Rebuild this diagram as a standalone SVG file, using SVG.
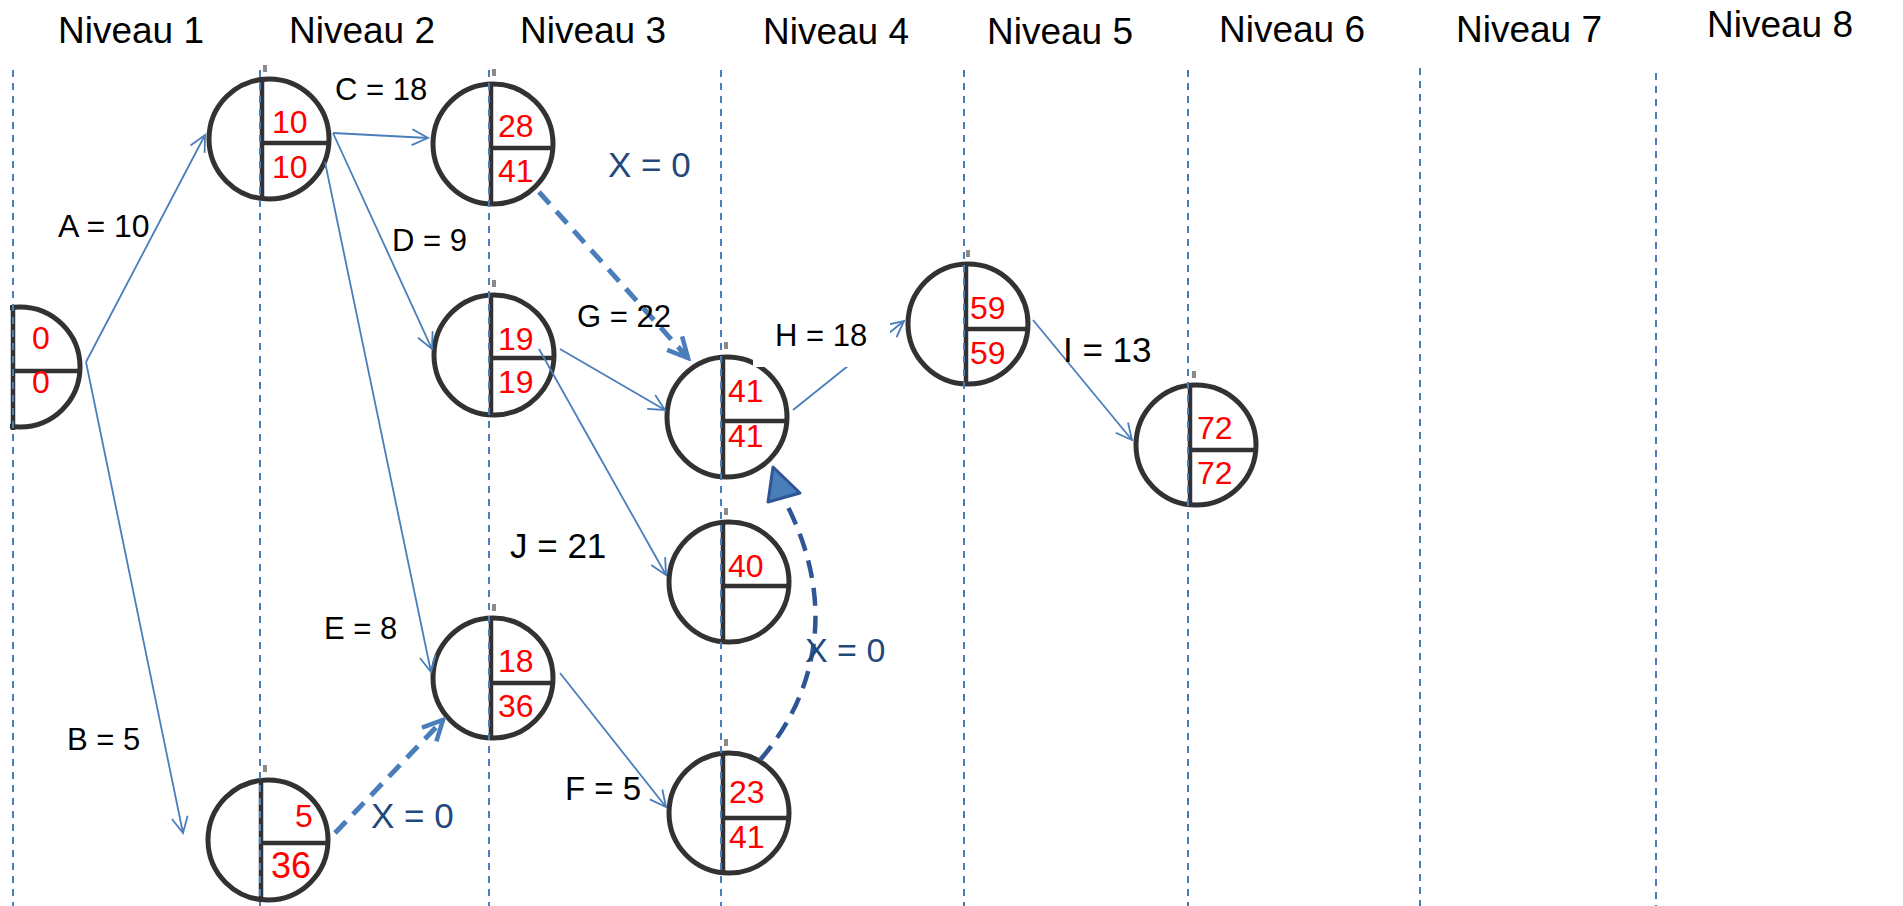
<svg xmlns="http://www.w3.org/2000/svg" width="1903" height="906" viewBox="0 0 1903 906">
<style>
.hdr{font-family:"Liberation Sans",Arial,sans-serif;font-size:37px;fill:#000}
.lbl{font-family:"Liberation Sans",Arial,sans-serif;font-size:31px;fill:#000}
.lbl-big{font-family:"Liberation Sans",Arial,sans-serif;font-size:35px;fill:#000}
.xl{font-family:"Liberation Sans",Arial,sans-serif;font-size:35px;fill:#1f497d}
.num{font-family:"Liberation Sans",Arial,sans-serif;font-size:32px;fill:#ff0000}
.ring{fill:#fff;stroke:#303030;stroke-width:5}
.bar{stroke:#303030;stroke-width:4.5}
.tick{fill:#8a8a8a}
.grid{stroke:#4a7ebb;stroke-width:2;stroke-dasharray:7 6}
.edge{stroke:#4a7ebb;stroke-width:1.8;fill:none}
.dummy{stroke:#4a7ebb;stroke-width:5;fill:none;stroke-dasharray:16 10}
.dummy2{stroke:#2f5597;stroke-width:4.5;fill:none;stroke-dasharray:18 10}
</style>
<defs>
<filter id="soft" filterUnits="userSpaceOnUse" x="0" y="0" width="1903" height="906"><feGaussianBlur stdDeviation="0.7"/></filter>
<clipPath id="clip0"><rect x="10" y="290" width="100" height="160"/></clipPath>
<marker id="arr" markerUnits="userSpaceOnUse" viewBox="-20 -12 24 24" markerWidth="24" markerHeight="24" refX="0" refY="0" orient="auto">
<path d="M-16,-8 L0,0 L-16,8" fill="none" stroke="#4a7ebb" stroke-width="1.8"/>
</marker>
<marker id="arrD" markerUnits="userSpaceOnUse" viewBox="-26 -16 30 32" markerWidth="30" markerHeight="32" refX="0" refY="0" orient="auto">
<path d="M-20,-10 L0,0 L-20,10" fill="none" stroke="#4a7ebb" stroke-width="4.5"/>
</marker>
</defs>
<rect width="1903" height="906" fill="#fff"/>

<g id="headers">
<text class="hdr" x="58" y="43">Niveau 1</text>
<text class="hdr" x="289" y="43">Niveau 2</text>
<text class="hdr" x="520" y="43">Niveau 3</text>
<text class="hdr" x="763" y="44">Niveau 4</text>
<text class="hdr" x="987" y="44">Niveau 5</text>
<text class="hdr" x="1219" y="42">Niveau 6</text>
<text class="hdr" x="1456" y="42">Niveau 7</text>
<text class="hdr" x="1707" y="37">Niveau 8</text>
</g>

<g id="node-0" clip-path="url(#clip0)">
<g filter="url(#soft)">
<circle class="ring" cx="20" cy="367" r="60"/>
<line class="bar" x1="13" y1="305" x2="13" y2="430"/>
<line class="bar" x1="13" y1="371" x2="80" y2="371"/>
</g>
<text class="num" x="32" y="349">0</text>
<text class="num" x="32" y="393">0</text>
</g>

<g id="node-1">
<rect class="tick" x="263" y="65" width="4" height="7"/>
<g filter="url(#soft)">
<circle class="ring" cx="269" cy="139" r="60"/>
<line class="bar" x1="262" y1="78" x2="262" y2="200"/>
<line class="bar" x1="262" y1="143" x2="328" y2="143"/>
</g>
<text class="num" x="272" y="133">10</text>
<text class="num" x="272" y="178">10</text>
</g>

<g id="node-2">
<rect class="tick" x="263" y="765" width="4" height="7"/>
<g filter="url(#soft)">
<circle class="ring" cx="268" cy="840" r="60"/>
<line class="bar" x1="261" y1="778" x2="261" y2="902"/>
<line class="bar" x1="261" y1="843" x2="327" y2="843"/>
</g>
<text class="num" x="295" y="827">5</text>
<text class="num" x="271" y="878" style="font-size:36px">36</text>
</g>

<g id="node-3">
<rect class="tick" x="492" y="69" width="4" height="7"/>
<g filter="url(#soft)">
<circle class="ring" cx="493" cy="144" r="60"/>
<line class="bar" x1="491" y1="82" x2="491" y2="206"/>
<line class="bar" x1="491" y1="148" x2="552" y2="148"/>
</g>
<text class="num" x="498" y="137">28</text>
<text class="num" x="498" y="182">41</text>
</g>

<g id="node-4">
<rect class="tick" x="492" y="280" width="4" height="7"/>
<g filter="url(#soft)">
<circle class="ring" cx="494" cy="355" r="60"/>
<line class="bar" x1="491" y1="293" x2="491" y2="417"/>
<line class="bar" x1="491" y1="358" x2="553" y2="358"/>
</g>
<text class="num" x="498" y="350">19</text>
<text class="num" x="498" y="393">19</text>
</g>

<g id="node-5">
<rect class="tick" x="492" y="604" width="4" height="7"/>
<g filter="url(#soft)">
<circle class="ring" cx="493" cy="678" r="60"/>
<line class="bar" x1="491" y1="616" x2="491" y2="740"/>
<line class="bar" x1="491" y1="683" x2="552" y2="683"/>
</g>
<text class="num" x="498" y="672">18</text>
<text class="num" x="498" y="717">36</text>
</g>

<g id="node-6">
<rect class="tick" x="724" y="342" width="4" height="7"/>
<g filter="url(#soft)">
<circle class="ring" cx="727" cy="417" r="60"/>
<line class="bar" x1="723" y1="355" x2="723" y2="479"/>
<line class="bar" x1="723" y1="421" x2="786" y2="421"/>
</g>
<text class="num" x="728" y="402">41</text>
<text class="num" x="728" y="447">41</text>
</g>

<g id="node-7">
<rect class="tick" x="724" y="508" width="4" height="7"/>
<g filter="url(#soft)">
<circle class="ring" cx="729" cy="582" r="60"/>
<line class="bar" x1="723" y1="520" x2="723" y2="644"/>
<line class="bar" x1="723" y1="586" x2="788" y2="586"/>
</g>
<text class="num" x="728" y="577">40</text>
</g>

<g id="node-8">
<rect class="tick" x="724" y="739" width="4" height="7"/>
<g filter="url(#soft)">
<circle class="ring" cx="729" cy="813" r="60"/>
<line class="bar" x1="723" y1="751" x2="723" y2="875"/>
<line class="bar" x1="723" y1="818" x2="788" y2="818"/>
</g>
<text class="num" x="729" y="803">23</text>
<text class="num" x="729" y="848">41</text>
</g>

<g id="node-9">
<rect class="tick" x="966" y="250" width="4" height="7"/>
<g filter="url(#soft)">
<circle class="ring" cx="968" cy="324" r="60"/>
<line class="bar" x1="966" y1="262" x2="966" y2="386"/>
<line class="bar" x1="966" y1="329" x2="1027" y2="329"/>
</g>
<text class="num" x="970" y="319">59</text>
<text class="num" x="970" y="364">59</text>
</g>

<g id="node-10">
<rect class="tick" x="1192" y="371" width="4" height="7"/>
<g filter="url(#soft)">
<circle class="ring" cx="1196" cy="445" r="60"/>
<line class="bar" x1="1190" y1="383" x2="1190" y2="507"/>
<line class="bar" x1="1190" y1="450" x2="1255" y2="450"/>
</g>
<text class="num" x="1197" y="439">72</text>
<text class="num" x="1197" y="484">72</text>
</g>

<g id="grid">
<line class="grid" x1="13" y1="70" x2="13" y2="906"/>
<line class="grid" x1="260" y1="70" x2="260" y2="906"/>
<line class="grid" x1="489" y1="70" x2="489" y2="906"/>
<line class="grid" x1="721" y1="70" x2="721" y2="906"/>
<line class="grid" x1="964" y1="70" x2="964" y2="906"/>
<line class="grid" x1="1188" y1="70" x2="1188" y2="906"/>
<line class="grid" x1="1420" y1="68" x2="1420" y2="906"/>
<line class="grid" x1="1656" y1="73" x2="1656" y2="906"/>
</g>

<g id="connectors">
<path class="edge" d="M86,362 L205,135" marker-end="url(#arr)"/>
<path class="edge" d="M86,362 L183,833" marker-end="url(#arr)"/>
<path class="edge" d="M333,133 L428,138" marker-end="url(#arr)"/>
<path class="edge" d="M333,133 L432,349" marker-end="url(#arr)"/>
<path class="edge" d="M325,162 L431,672" marker-end="url(#arr)"/>
<path class="edge" d="M560,349 L665,410" marker-end="url(#arr)"/>
<path class="edge" d="M539,349 L666,575" marker-end="url(#arr)"/>
<path class="edge" d="M560,673 L666,807" marker-end="url(#arr)"/>
<path class="edge" d="M793,410 L904,321" marker-end="url(#arr)"/>
<path class="edge" d="M1033,320 L1132,440" marker-end="url(#arr)"/>
<path class="dummy" d="M539,192 L688,358" marker-end="url(#arrD)"/>
<path class="dummy" d="M335,833 L443,720" marker-end="url(#arrD)"/>
<path class="dummy2" d="M760,760 C812,700 840,610 787,505"/>
<polygon points="768,502 800,493 773,467" fill="#4a7ebb" stroke="#2f5597" stroke-width="3" stroke-linejoin="round"/>
</g>

<g id="labels">
<text class="lbl" x="58" y="237" style="font-size:32px">A = 10</text>
<text class="lbl" x="67" y="750">B = 5</text>
<text class="lbl" x="335" y="100">C = 18</text>
<text class="lbl" x="392" y="251">D = 9</text>
<text class="lbl" x="324" y="639">E = 8</text>
<text class="lbl" x="565" y="800" style="font-size:33px">F = 5</text>
<text class="lbl" x="577" y="327">G = 22</text>
<g id="label-H">
<rect x="753" y="300" width="137" height="67" fill="#fff"/>
<text class="lbl" x="775" y="346">H = 18</text>
</g>
<text class="lbl-big" x="1063" y="362">I = 13</text>
<text class="lbl-big" x="510" y="558">J = 21</text>
<text class="xl" x="608" y="177">X = 0</text>
<text class="xl" x="371" y="828">X = 0</text>
<text class="xl" x="805" y="662" style="font-size:34px">X = 0</text>
</g>
</svg>
